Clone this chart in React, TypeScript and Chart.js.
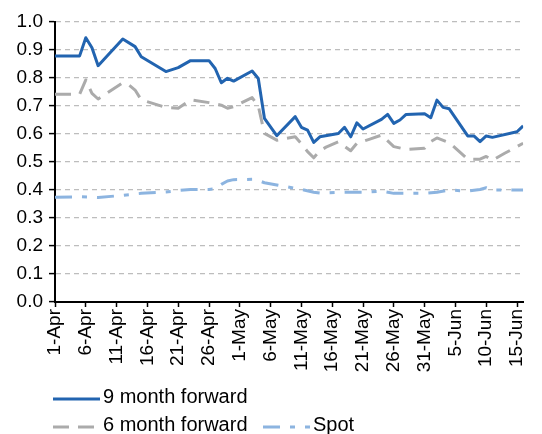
import React, { useEffect, useRef } from 'react';
import { Chart, registerables } from 'chart.js';

Chart.register(...registerables);

// X axis: day index from 1-Apr (0) to 16-Jun (76)
const xTickDays = [0, 5, 10, 15, 20, 25, 30, 35, 40, 45, 50, 55, 60, 65, 70, 75];
const xTickLabels = ['1-Apr', '6-Apr', '11-Apr', '16-Apr', '21-Apr', '26-Apr', '1-May', '6-May', '11-May', '16-May', '21-May', '26-May', '31-May', '5-Jun', '10-Jun', '15-Jun'];

const nineDays = [0, 4, 5, 6, 7, 11, 13, 14, 18, 20, 22, 25, 26, 27, 28, 29, 32, 33, 34, 36, 39, 40, 41, 42, 43, 46, 47, 48, 49, 50, 53, 54, 55, 56, 57, 60, 61, 62, 63, 64, 67, 68, 69, 70, 71, 75, 76];
const nineVals = [0.879, 0.879, 0.944, 0.908, 0.844, 0.939, 0.912, 0.876, 0.823, 0.837, 0.862, 0.862, 0.834, 0.783, 0.799, 0.789, 0.825, 0.798, 0.656, 0.594, 0.662, 0.624, 0.614, 0.570, 0.590, 0.602, 0.624, 0.590, 0.640, 0.618, 0.652, 0.670, 0.638, 0.650, 0.670, 0.672, 0.658, 0.721, 0.695, 0.690, 0.593, 0.593, 0.573, 0.593, 0.588, 0.608, 0.629];

const sixDays = [0, 4, 5, 6, 7, 11, 12, 13, 14, 18, 20, 22, 25, 27, 28, 29, 32, 33, 34, 36, 39, 40, 41, 42, 43, 44, 46, 48, 49, 51, 53, 55, 57, 60, 61, 62, 64, 67, 69, 70, 71, 73, 76];
const sixVals = [0.742, 0.742, 0.793, 0.745, 0.725, 0.783, 0.775, 0.757, 0.722, 0.695, 0.692, 0.722, 0.712, 0.703, 0.692, 0.698, 0.730, 0.700, 0.602, 0.578, 0.590, 0.565, 0.537, 0.515, 0.540, 0.553, 0.572, 0.540, 0.567, 0.581, 0.596, 0.555, 0.545, 0.549, 0.573, 0.586, 0.569, 0.510, 0.510, 0.520, 0.506, 0.531, 0.567];

const spotDays = [0, 4, 7, 11, 14, 18, 20, 22, 25, 26, 27, 28, 29, 32, 33, 34, 36, 39, 40, 42, 43, 46, 50, 53, 55, 58, 60, 62, 64, 67, 69, 70, 71, 74, 76];
const spotVals = [0.374, 0.376, 0.373, 0.381, 0.388, 0.393, 0.398, 0.402, 0.402, 0.404, 0.420, 0.432, 0.437, 0.438, 0.434, 0.426, 0.418, 0.406, 0.402, 0.392, 0.389, 0.392, 0.392, 0.396, 0.388, 0.388, 0.388, 0.392, 0.400, 0.396, 0.402, 0.408, 0.400, 0.400, 0.400];

const seriesNames = ['9 month forward', '6 month forward', 'Spot'];

const toPoints = (d: number[], v: number[]) => d.map((x, i) => ({ x, y: v[i] }));

const FONT = "'Liberation Sans', Arial, sans-serif";

const legendPlugin = {
  id: 'customLegend',
  afterDraw(chart: any) {
    const ctx = chart.ctx;
    const slots = [
      { x: 53, lineY: 399, textY: 397 },
      { x: 53, lineY: 427, textY: 425 },
      { x: 263, lineY: 427, textY: 425 },
    ];
    ctx.save();
    ctx.font = `20px ${FONT}`;
    ctx.textBaseline = 'middle';
    ctx.textAlign = 'left';
    chart.data.datasets.forEach((ds: any, i: number) => {
      const s = slots[i];
      if (!s) return;
      ctx.beginPath();
      ctx.setLineDash(ds.borderDash || []);
      ctx.lineWidth = ds.borderWidth;
      ctx.strokeStyle = ds.borderColor;
      ctx.moveTo(s.x, s.lineY);
      ctx.lineTo(s.x + 47, s.lineY);
      ctx.stroke();
      ctx.setLineDash([]);
      ctx.fillStyle = '#000';
      ctx.fillText(ds.label, s.x + 50, s.textY);
    });
    ctx.restore();
  },
};

export default function App() {
  const ref = useRef<HTMLCanvasElement | null>(null);

  useEffect(() => {
    if (!ref.current) return;
    const chart = new Chart(ref.current, {
      type: 'line',
      data: {
        datasets: [
          {
            label: seriesNames[0],
            data: toPoints(nineDays, nineVals),
            borderColor: '#2264b0',
            borderWidth: 3,
            pointRadius: 0,
            tension: 0,
            borderJoinStyle: 'round',
          },
          {
            label: seriesNames[1],
            data: toPoints(sixDays, sixVals),
            borderColor: '#ababab',
            borderWidth: 3,
            borderDash: [16, 9],
            pointRadius: 0,
            tension: 0,
            borderJoinStyle: 'round',
          },
          {
            label: seriesNames[2],
            data: toPoints(spotDays, spotVals),
            borderColor: '#8cb4e0',
            borderWidth: 3,
            borderDash: [17, 10, 5, 10],
            pointRadius: 0,
            tension: 0,
            borderJoinStyle: 'round',
          },
        ],
      },
      options: {
        animation: false,
        responsive: false,
        layout: { padding: { left: 0, right: 15, top: 22, bottom: 0 } },
        plugins: {
          legend: { display: false },
          tooltip: { enabled: false },
        },
        scales: {
          x: {
            type: 'linear',
            min: 0,
            max: 76,
            afterBuildTicks: (s: any) => {
              s.ticks = xTickDays.map((v) => ({ value: v }));
            },
            afterFit: (s: any) => {
              s.height = 132;
            },
            ticks: {
              autoSkip: false,
              maxRotation: 90,
              minRotation: 90,
              padding: 2,
              color: '#000',
              font: { family: FONT, size: 19 },
              callback: (_v: any, i: number) => xTickLabels[i] ?? '',
            },
            grid: {
              drawOnChartArea: false,
              drawTicks: true,
              tickLength: 5,
              tickColor: '#000',
              tickWidth: 1.5,
              color: '#000',
            },
            border: { display: true, color: '#000', width: 2 },
          },
          y: {
            min: 0,
            max: 1,
            afterFit: (s: any) => {
              s.width = 55;
            },
            ticks: {
              stepSize: 0.1,
              padding: 6,
              color: '#000',
              font: { family: FONT, size: 19 },
              callback: (v: any) => Number(v).toFixed(1),
            },
            grid: {
              color: (c: any) => (c.tick && Math.abs(c.tick.value) < 1e-9 ? 'rgba(0,0,0,0)' : '#bdbdbd'),
              lineWidth: 1.2,
              drawTicks: true,
              tickLength: 6,
              tickColor: '#000',
              tickWidth: 1.5,
            },
            border: { display: true, color: '#000', width: 2, dash: [5, 4] },
          },
        },
      },
      plugins: [legendPlugin],
    } as any);
    return () => chart.destroy();
  }, []);

  return (
    <div style={{ position: 'absolute', left: 0, top: 0, width: 542, height: 434, background: '#fff' }}>
      <canvas ref={ref} width={542} height={434} />
    </div>
  );
}
